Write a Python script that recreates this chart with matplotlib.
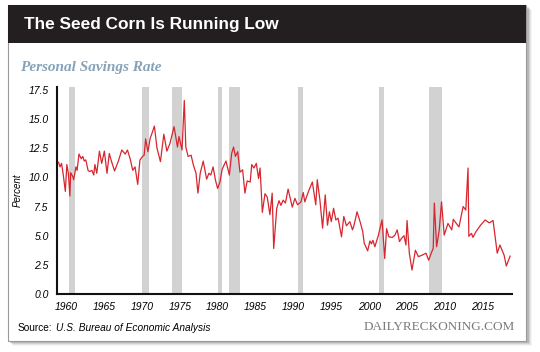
import matplotlib.pyplot as plt
from matplotlib.patches import Rectangle

# personal savings rate (year, percent)
years = [1959.0, 1959.2, 1959.4, 1959.6, 1959.9, 1960.1, 1960.3, 1960.5, 1960.6, 1960.9,
         1961.0, 1961.3, 1961.45, 1961.7, 1962.0, 1962.2, 1962.4, 1962.6, 1962.9, 1963.1,
         1963.4, 1963.65, 1963.8, 1964.05, 1964.4, 1964.7, 1965.05, 1965.4, 1965.7, 1966.0,
         1966.4, 1966.9, 1967.35, 1967.8, 1968.1, 1968.45, 1968.8, 1969.1, 1969.45, 1969.75,
         1970.1, 1970.3, 1970.5, 1970.8, 1971.1, 1971.4, 1971.65, 1972.0, 1972.45, 1972.9,
         1973.3, 1973.7, 1974.25, 1974.7, 1974.9, 1975.3, 1975.6, 1975.8, 1976.1, 1976.5,
         1976.8, 1977.15, 1977.4, 1977.7, 1978.1, 1978.55, 1978.85, 1979.1, 1979.4, 1979.7,
         1980.0, 1980.3, 1980.6, 1981.1, 1981.55, 1981.85, 1982.1, 1982.35, 1982.65, 1982.95,
         1983.3, 1983.6, 1983.9, 1984.3, 1984.5, 1984.8, 1985.1, 1985.4, 1985.6, 1985.9,
         1986.25, 1986.55, 1986.9, 1987.2, 1987.4, 1987.8, 1988.1, 1988.35, 1988.65, 1988.95,
         1989.3, 1989.85, 1990.2, 1990.55, 1991.0, 1991.3, 1991.5, 1992.05, 1992.5, 1992.95,
         1993.15, 1993.5, 1993.85, 1994.2, 1994.5, 1994.75, 1995.0, 1995.3, 1995.6, 1995.9,
         1996.35, 1996.65, 1997.0, 1997.45, 1997.8, 1998.0, 1998.4, 1998.8, 1999.15, 1999.35,
         1999.8, 2000.1, 2000.3, 2000.5, 2000.75, 2001.2, 2001.7, 2002.05, 2002.3, 2002.6,
         2003.05, 2003.4, 2003.7, 2004.0, 2004.3, 2004.6, 2004.85, 2005.0, 2005.3, 2005.65,
         2006.1, 2006.5, 2007.05, 2007.5, 2007.85, 2008.25, 2008.45, 2008.6, 2008.9, 2009.25,
         2009.55, 2009.9, 2010.4, 2010.9, 2011.1, 2011.85, 2012.4, 2012.75, 2013.05, 2013.15,
         2013.5, 2013.7, 2014.1, 2014.7, 2015.3, 2015.85, 2016.35, 2016.9, 2017.25, 2017.8,
         2018.1, 2018.6]
savings = [11.3, 10.9, 11.2, 10.35, 8.8, 11.1, 10.35, 8.4, 10.4, 10.05,
           9.8, 10.9, 10.6, 12.0, 11.6, 11.8, 11.4, 11.5, 10.6, 10.5,
           10.6, 10.2, 11.1, 10.35, 12.25, 11.2, 12.25, 10.35, 12.05, 11.35,
           10.55, 11.4, 12.35, 12.0, 12.35, 11.6, 10.6, 10.9, 9.4, 11.5,
           11.8, 11.9, 13.3, 12.2, 13.35, 13.9, 14.4, 12.5, 11.35, 13.7,
           12.25, 12.9, 14.35, 12.6, 13.5, 12.35, 16.6, 12.6, 11.8, 11.9,
           11.05, 10.35, 8.65, 10.35, 11.4, 9.85, 10.35, 10.2, 10.9, 9.8,
           9.05, 9.6, 10.7, 11.4, 10.2, 12.05, 12.6, 11.8, 12.2, 10.45,
           10.65, 8.65, 9.7, 9.6, 11.1, 10.8, 11.2, 9.9, 10.8, 7.0,
           8.6, 8.3, 6.8, 8.65, 3.9, 7.35, 8.0, 7.6, 8.05, 7.8,
           9.0, 7.45, 8.2, 7.65, 7.9, 8.7, 7.9, 8.9, 9.6, 7.65,
           9.8, 8.05, 5.65, 8.5, 5.9, 7.05, 6.2, 7.35, 6.35, 6.5,
           4.9, 6.65, 5.85, 6.2, 5.5, 5.9, 7.05, 6.2, 5.35, 4.35,
           3.7, 4.55, 4.3, 4.6, 4.05, 5.0, 6.35, 3.05, 5.6, 4.9,
           4.85, 5.05, 5.5, 4.5, 4.8, 5.0, 4.2, 6.3, 3.5, 2.05,
           3.75, 3.2, 3.35, 3.5, 2.9, 3.6, 3.9, 7.8, 4.05, 5.5,
           7.9, 5.05, 6.05, 5.5, 6.4, 5.75, 7.5, 7.2, 10.8, 4.95,
           5.2, 4.85, 5.35, 5.9, 6.35, 6.1, 6.3, 3.5, 4.2, 3.35,
           2.4, 3.25]

# recessions (start, end)
rec_start = [1960.35, 1970.0, 1973.95, 1980.05, 1981.55, 1990.6, 2001.25, 2007.95]
rec_end = [1961.15, 1970.9, 1975.25, 1980.6, 1982.95, 1991.25, 2001.9, 2009.55]

y_ticks = [0.0, 2.5, 5.0, 7.5, 10.0, 12.5, 15.0, 17.5]
x_ticks = [1960, 1965, 1970, 1975, 1980, 1985, 1990, 1995, 2000, 2005, 2010, 2015]

W, H = 540, 352
fig = plt.figure(figsize=(W / 100, H / 100), dpi=100)
fig.patch.set_facecolor("white")


def px(x, y, w, h):
    # pixel box (top-left origin) -> figure fraction rectangle
    return (x / W, 1 - (y + h) / H, w / W, h / H)


# drop shadow + card
for i, a in enumerate([0.12, 0.09, 0.06, 0.04]):
    x0, y0, w0, h0 = px(8 + 2 + i, 5 + 2 + i, 519, 336)
    fig.patches.append(Rectangle((x0, y0), w0, h0, transform=fig.transFigure,
                                 facecolor="black", alpha=a, edgecolor="none", zorder=0))
x0, y0, w0, h0 = px(8, 5, 518, 336)
fig.patches.append(Rectangle((x0, y0), w0, h0, transform=fig.transFigure,
                             facecolor="white", edgecolor="#9a9a9a", lw=0.8, zorder=1))
x0, y0, w0, h0 = px(8, 5, 518, 38)
fig.patches.append(Rectangle((x0, y0), w0, h0, transform=fig.transFigure,
                             facecolor="#231f20", edgecolor="none", zorder=2))

fig.text(24 / W, 1 - 25 / H, "The Seed Corn Is Running Low", color="white",
         fontsize=12.4, fontweight="bold", family="Liberation Sans", va="center", zorder=3)
fig.text(20 / W, 1 - 67 / H, "Personal Savings Rate", color="#86a2b8",
         fontsize=11, fontweight="bold", fontstyle="italic", family="Liberation Serif",
         va="center", zorder=3)

ax = fig.add_axes([57 / W, 1 - 294 / H, (512 - 57) / W, (294 - 87) / H])
ax.set_facecolor("none")
ax.set_zorder(4)

for s, e in zip(rec_start, rec_end):
    ax.axvspan(s, e, color="#d2d2d2", lw=0, zorder=1)
ax.plot(years, savings, color="#d7262f", lw=0.9, zorder=3)

ax.set_xlim(1958.8, 2018.85)
ax.set_ylim(0, 17.75)
ax.set_yticks(y_ticks)
ax.set_yticklabels([f"{v:.1f}" for v in y_ticks])
ax.set_xticks(x_ticks)
ax.tick_params(length=0, labelsize=7.5, pad=6)
for lab in ax.get_xticklabels() + ax.get_yticklabels():
    lab.set_fontstyle("italic")
    lab.set_family("Liberation Sans")
ax.set_ylabel("Percent", fontsize=7, fontstyle="italic", family="Liberation Sans", labelpad=4)
for side in ["top", "right"]:
    ax.spines[side].set_visible(False)
for side in ["left", "bottom"]:
    ax.spines[side].set_linewidth(1.5)
    ax.spines[side].set_color("#111111")

src = fig.text(18 / W, 1 - 328 / H, "Source:", fontsize=7.3, family="Liberation Sans",
               va="center", zorder=3)
fig.canvas.draw()
bb = src.get_window_extent(renderer=fig.canvas.get_renderer())
fig.text((bb.x1 + 3) / W, 1 - 328 / H, "U.S. Bureau of Economic Analysis", fontsize=7.3,
         fontstyle="italic", family="Liberation Sans", va="center", zorder=3)
fig.text(515 / W, 1 - 327 / H, "DAILYRECKONING.COM", fontsize=9.5, color="#7a7a7a",
         family="Liberation Serif", ha="right", va="center", zorder=3)

fig.savefig("out.png", dpi=100)
